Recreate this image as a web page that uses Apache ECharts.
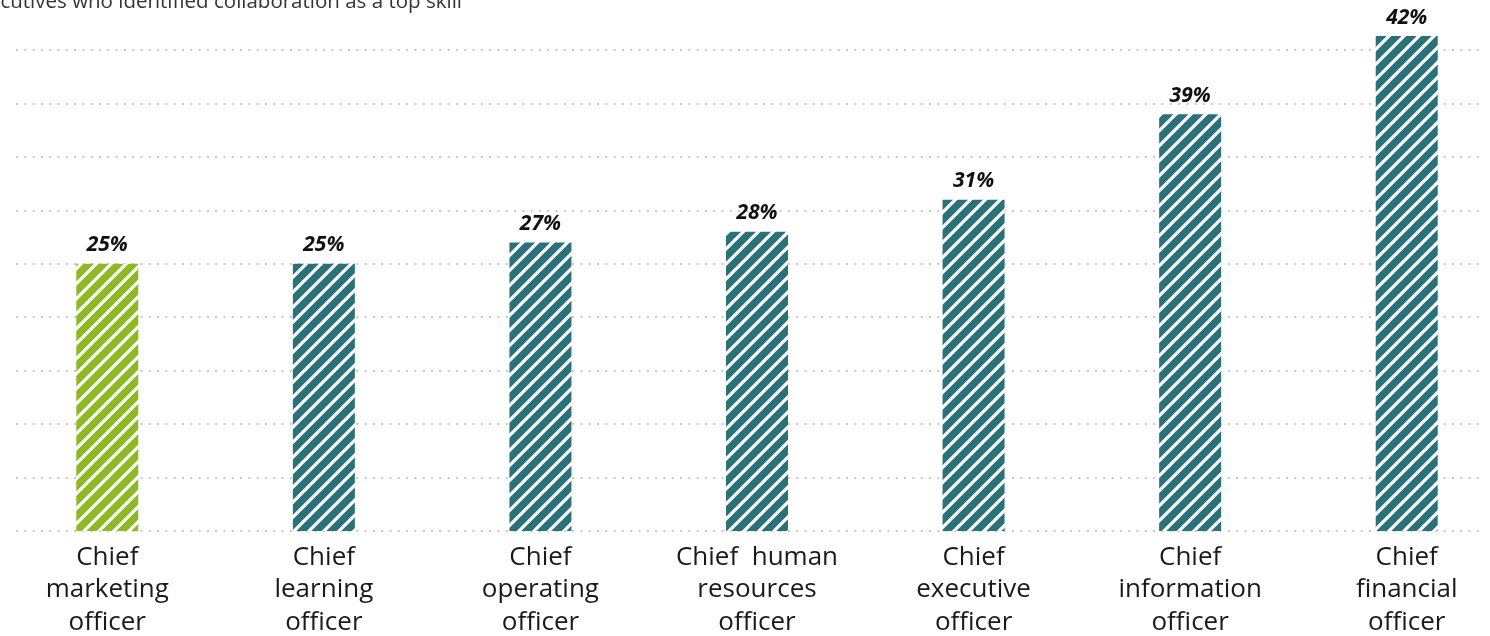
<!DOCTYPE html>
<html>
<head>
<meta charset="utf-8">
<script src="https://cdn.jsdelivr.net/npm/echarts@6/dist/echarts.min.js"></script>
<style>
html,body{margin:0;padding:0;background:#fff;}
#chart{width:1490px;height:636px;}
</style>
</head>
<body>
<div id="chart"></div>
<script>
var categories = [
  "Chief\nmarketing\nofficer",
  "Chief\nlearning\nofficer",
  "Chief\noperating\nofficer",
  "Chief  human\nresources\nofficer",
  "Chief\nexecutive\nofficer",
  "Chief\ninformation\nofficer",
  "Chief\nfinancial\nofficer"
];
// bar heights as drawn in the picture (percent scale)
var barValues = [25, 25, 27, 28, 31, 39, 46.3];
// value labels printed above the bars
var valueLabels = ["25%", "25%", "27%", "28%", "31%", "39%", "42%"];
var highlightIndex = [0];
var yTicks = [0, 5, 10, 15, 20, 25, 30, 35, 40, 45];
var titleText = "Percentage of executives who identified collaboration as a top skill";

function makePattern(color) {
  var n = 15;
  var c = document.createElement('canvas');
  c.width = n; c.height = n;
  var ctx = c.getContext('2d');
  ctx.fillStyle = color;
  ctx.fillRect(0, 0, n, n);
  ctx.strokeStyle = '#ffffff';
  ctx.lineWidth = 3.2;
  ctx.beginPath();
  ctx.moveTo(-2, n + 2); ctx.lineTo(n + 2, -2);
  ctx.moveTo(-2, 2); ctx.lineTo(2, -2);
  ctx.moveTo(n - 2, n + 2); ctx.lineTo(n + 2, n - 2);
  ctx.stroke();
  return c;
}
var greenPat = makePattern('#8db922');
var tealPat = makePattern('#2b717a');

var chart = echarts.init(document.getElementById('chart'), null, {renderer: 'canvas'});
var FONT = '"Open Sans", "Noto Sans", sans-serif';
var option = {
  animation: false,
  textStyle: {fontFamily: FONT},
  graphic: [{
    type: 'text',
    x: 462, y: 13,
    style: {
      text: titleText,
      align: 'right',
      verticalAlign: 'bottom',
      fontSize: 20.5,
      fontFamily: FONT,
      fill: '#333333'
    }
  }],
  grid: [
    {left: 16, right: 10, top: 50, bottom: 105, containLabel: false, outerBoundsMode: 'none'},
    {left: -1, right: -25, top: 50, bottom: 105, containLabel: false, outerBoundsMode: 'none'}
  ],
  xAxis: [
    {gridIndex: 0, type: 'category', data: categories, show: false},
    {
      gridIndex: 1, type: 'category', data: categories,
      axisLine: {show: false}, axisTick: {show: false},
      axisLabel: {
        interval: 0, fontSize: 26, lineHeight: 32.5, color: '#1a1a1a',
        margin: 10, fontFamily: FONT
      }
    }
  ],
  yAxis: [
    {
      gridIndex: 0, type: 'value', min: yTicks[0], max: yTicks[yTicks.length - 1], interval: 5,
      axisLine: {show: false}, axisTick: {show: false}, axisLabel: {show: false},
      splitLine: {show: true, lineStyle: {color: '#c8c8c8', width: 2, type: [2, 6.3]}}
    },
    {
      gridIndex: 1, type: 'value', min: yTicks[0], max: yTicks[yTicks.length - 1], interval: 5,
      show: false, splitLine: {show: false}
    }
  ],
  series: [{
    type: 'bar',
    xAxisIndex: 1, yAxisIndex: 1,
    barWidth: 62,
    clip: false,
    data: barValues.map(function (v, i) {
      return {
        value: v,
        itemStyle: {color: highlightIndex.indexOf(i) >= 0 ? {image: greenPat, repeat: 'repeat'} : {image: tealPat, repeat: 'repeat'}}
      };
    }),
    label: {
      show: true, position: 'top', distance: 8,
      formatter: function (p) { return valueLabels[p.dataIndex]; },
      fontSize: 21, fontWeight: 'bold', fontStyle: 'italic', color: '#111111', fontFamily: FONT
    }
  }]
};
chart.setOption(option);
</script>
</body>
</html>
